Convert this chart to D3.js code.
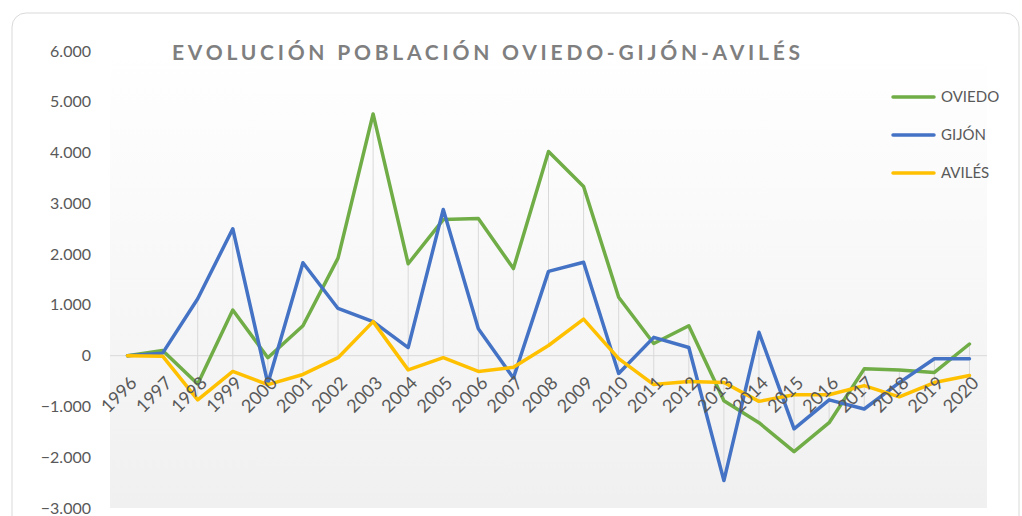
<!DOCTYPE html>
<html>
<head>
<meta charset="utf-8">
<script src="https://cdn.jsdelivr.net/npm/d3@7"></script>
<style>
  body { margin: 0; background: #fff; }
  svg { font-family: Lato, "Open Sans", sans-serif; }
</style>
</head>
<body>
<svg id="chart"></svg>
<script>
const width = 1022;
const height = 516;

// Data
const years = ["1996","1997","1998","1999","2000","2001","2002","2003","2004","2005","2006","2007","2008",
               "2009","2010","2011","2012","2013","2014","2015","2016","2017","2018","2019","2020"];
const oviedo = [0, 100, -560, 900, -40, 590, 1920, 4760, 1810, 2680, 2700, 1716, 4020,
                3330, 1150, 240, 590, -890, -1320, -1890, -1320, -260, -280, -330, 230];
const gijon = [0, 50, 1120, 2500, -550, 1830, 930, 670, 160, 2880, 530, -440, 1660,
               1840, -350, 360, 160, -2460, 460, -1440, -870, -1050, -530, -60, -60];
const aviles = [0, -10, -870, -310, -570, -370, -40, 670, -280, -40, -310, -230, 200,
                720, -60, -570, -510, -530, -900, -770, -770, -590, -810, -530, -390];
const yTicks = [6000, 5000, 4000, 3000, 2000, 1000, 0, -1000, -2000, -3000];

const series = [
  { name: "OVIEDO", values: oviedo, color: "#70AD47" },
  { name: "GIJÓN", values: gijon, color: "#4472C4" },
  { name: "AVILÉS", values: aviles, color: "#FFC000" }
];

const plot = { left: 110, right: 987, top: 51, bottom: 508 };

const svg = d3.select("#chart")
    .attr("width", width)
    .attr("height", height);

// Chart border (rounded box, partly cut off)
svg.append("rect")
    .attr("x", 12).attr("y", 13)
    .attr("width", 1007).attr("height", 540)
    .attr("rx", 14)
    .attr("fill", "#fff")
    .attr("stroke", "#d9d9d9");

// Plot area gradient
const defs = svg.append("defs");
const grad = defs.append("linearGradient").attr("id", "bg")
    .attr("x1", 0).attr("y1", 0).attr("x2", 0).attr("y2", 1);
grad.append("stop").attr("offset", "0%").attr("stop-color", "#ffffff");
grad.append("stop").attr("offset", "100%").attr("stop-color", "#f0f0f0");

const x = d3.scaleBand().domain(years).range([plot.left, plot.right]);
const y = d3.scaleLinear().domain([-3000, 6000]).range([plot.bottom, plot.top]);
const cx = d => x(d) + x.bandwidth() / 2;

svg.append("rect")
    .attr("x", plot.left).attr("y", plot.top)
    .attr("width", plot.right - plot.left).attr("height", plot.bottom - plot.top)
    .attr("fill", "url(#bg)");

// High-low lines
svg.append("g").selectAll("line")
    .data(years)
    .join("line")
    .attr("x1", d => cx(d)).attr("x2", d => cx(d))
    .attr("y1", (d, i) => y(d3.max(series, s => s.values[i])))
    .attr("y2", (d, i) => y(d3.min(series, s => s.values[i])))
    .attr("stroke", "#d9d9d9")
    .attr("stroke-width", 1);

// Zero axis line
svg.append("line")
    .attr("x1", plot.left).attr("x2", plot.right)
    .attr("y1", y(0)).attr("y2", y(0))
    .attr("stroke", "#d9d9d9")
    .attr("stroke-width", 1);

// Y axis labels
const fmt = v => v === 0 ? "0" : d3.format(",")(v).replace(/,/g, ".");
svg.append("g").selectAll("text")
    .data(yTicks)
    .join("text")
    .attr("x", 91)
    .attr("y", d => y(d))
    .attr("dy", "0.35em")
    .attr("text-anchor", "end")
    .attr("font-size", 16)
    .attr("fill", "#595959")
    .text(fmt);

// Series lines
const line = d3.line()
    .x((d, i) => cx(years[i]))
    .y(d => y(d));

svg.append("g").selectAll("path")
    .data(series)
    .join("path")
    .attr("d", d => line(d.values))
    .attr("fill", "none")
    .attr("stroke", d => d.color)
    .attr("stroke-width", 3.5)
    .attr("stroke-linejoin", "round")
    .attr("stroke-linecap", "round");

// X axis labels, rotated
svg.append("g").selectAll("text")
    .data(years)
    .join("text")
    .attr("transform", d => `translate(${cx(d) + 6},${y(0) + 24}) rotate(-45)`)
    .attr("text-anchor", "end")
    .attr("dy", "0.35em")
    .attr("font-size", 18)
    .attr("fill", "#595959")
    .text(d => d);

// Title
svg.append("text")
    .attr("x", 172).attr("y", 60)
    .attr("font-size", 21)
    .attr("font-weight", "bold")
    .attr("textLength", 628)
    .attr("lengthAdjust", "spacing")
    .attr("fill", "#7f7f7f")
    .text("EVOLUCIÓN POBLACIÓN OVIEDO-GIJÓN-AVILÉS");

// Legend
const legend = svg.append("g").selectAll("g")
    .data(series)
    .join("g")
    .attr("transform", (d, i) => `translate(893,${97 + i * 38})`);

legend.append("line")
    .attr("x1", 0).attr("x2", 41)
    .attr("stroke", d => d.color)
    .attr("stroke-width", 3.5)
    .attr("stroke-linecap", "round");

legend.append("text")
    .attr("x", 48)
    .attr("dy", "0.35em")
    .attr("font-size", 15)
    .attr("fill", "#595959")
    .text(d => d.name);
</script>
</body>
</html>
